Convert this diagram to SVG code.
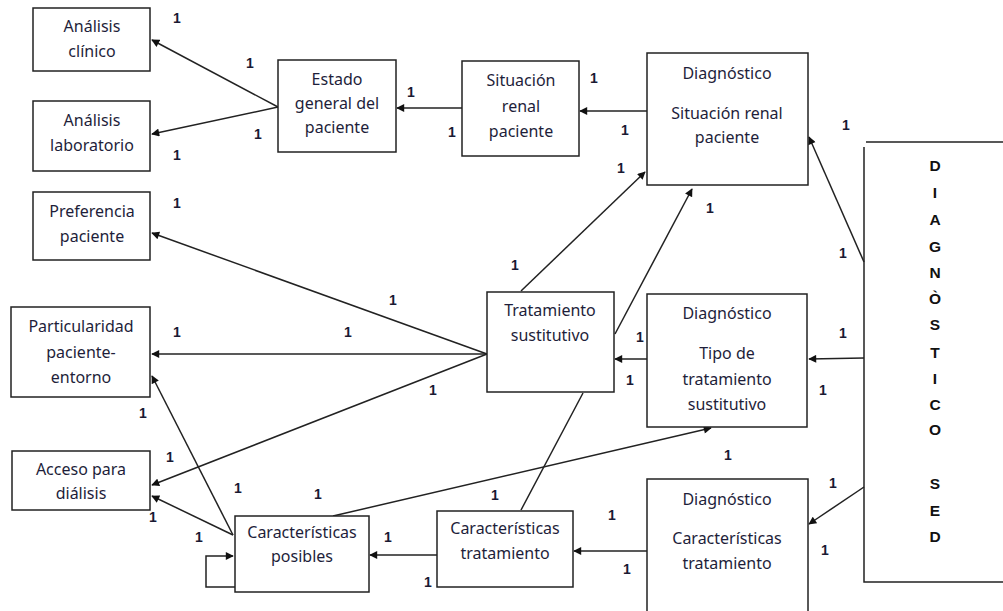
<svg xmlns="http://www.w3.org/2000/svg" width="1003" height="611" viewBox="0 0 1003 611">
<style>
.box{fill:#fff;stroke:#222;stroke-width:1.5}
.t{font-family:"Noto Sans","Open Sans",sans-serif;font-size:16px;fill:#1e1e3a;text-anchor:middle}
.n{font-family:"Liberation Sans",Arial,sans-serif;font-size:14px;font-weight:bold;fill:#1a1a33;text-anchor:middle}
.big{font-family:"Liberation Sans",Arial,sans-serif;font-size:15.5px;font-weight:bold;fill:#111;text-anchor:middle}
.c{fill:none;stroke:#222;stroke-width:1.5}
</style>
<defs>
<marker id="ah" viewBox="0 0 10 10" refX="9" refY="5" markerWidth="9" markerHeight="8" markerUnits="userSpaceOnUse" orient="auto">
<path d="M0,0 L10,5 L0,10 z" fill="#111"/>
</marker>
</defs>
<rect width="1003" height="611" fill="#fff"/>
<g id="connectors">
<line class="c" x1="278" y1="107" x2="152" y2="40" marker-end="url(#ah)"/>
<line class="c" x1="278" y1="107" x2="152" y2="134" marker-end="url(#ah)"/>
<line class="c" x1="462" y1="108" x2="397" y2="108" marker-end="url(#ah)"/>
<line class="c" x1="647" y1="111" x2="580" y2="111" marker-end="url(#ah)"/>
<line class="c" x1="521" y1="291" x2="645" y2="172" marker-end="url(#ah)"/>
<line class="c" x1="615" y1="334" x2="692" y2="189" marker-end="url(#ah)"/>
<line class="c" x1="647" y1="359" x2="615" y2="359" marker-end="url(#ah)"/>
<line class="c" x1="487" y1="354" x2="152" y2="233" marker-end="url(#ah)"/>
<line class="c" x1="487" y1="354" x2="152" y2="354" marker-end="url(#ah)"/>
<line class="c" x1="487" y1="354" x2="152" y2="485" marker-end="url(#ah)"/>
<line class="c" x1="233" y1="535" x2="152" y2="496" marker-end="url(#ah)"/>
<line class="c" x1="233" y1="535" x2="152" y2="376" marker-end="url(#ah)"/>
<path class="c" d="M235,587 H206 V556 H233" marker-end="url(#ah)"/>
<line class="c" x1="333" y1="516" x2="711" y2="428" marker-end="url(#ah)"/>
<line class="c" x1="521" y1="510" x2="583" y2="393"/>
<line class="c" x1="437" y1="555" x2="370" y2="555" marker-end="url(#ah)"/>
<line class="c" x1="647" y1="551" x2="574" y2="551" marker-end="url(#ah)"/>
<line class="c" x1="864" y1="262" x2="809" y2="137" marker-end="url(#ah)"/>
<line class="c" x1="864" y1="358" x2="809" y2="359" marker-end="url(#ah)"/>
<line class="c" x1="864" y1="487" x2="809" y2="524" marker-end="url(#ah)"/>
</g>
<g id="analisis-clinico">
<rect class="box" x="33" y="8" width="117" height="63"/>
<text class="t" x="92" y="32">Análisis</text>
<text class="t" x="92" y="57">clínico</text>
</g>
<g id="analisis-laboratorio">
<rect class="box" x="33" y="101" width="117" height="70"/>
<text class="t" x="92" y="126">Análisis</text>
<text class="t" x="92" y="151">laboratorio</text>
</g>
<g id="estado-general">
<rect class="box" x="278" y="60" width="118" height="92"/>
<text class="t" x="337" y="85">Estado</text>
<text class="t" x="337" y="109">general del</text>
<text class="t" x="337" y="133">paciente</text>
</g>
<g id="situacion-renal">
<rect class="box" x="462" y="61" width="117" height="95"/>
<text class="t" x="521" y="86">Situación</text>
<text class="t" x="521" y="112">renal</text>
<text class="t" x="521" y="137">paciente</text>
</g>
<g id="diag-situacion-renal">
<rect class="box" x="647" y="53" width="161" height="132"/>
<text class="t" x="727" y="79">Diagnóstico</text>
<text class="t" x="727" y="119">Situación renal</text>
<text class="t" x="727" y="143">paciente</text>
</g>
<g id="preferencia">
<rect class="box" x="33" y="192" width="117" height="68"/>
<text class="t" x="92" y="217">Preferencia</text>
<text class="t" x="92" y="242">paciente</text>
</g>
<g id="particularidad">
<rect class="box" x="11" y="307" width="139" height="90"/>
<text class="t" x="81" y="332">Particularidad</text>
<text class="t" x="81" y="358">paciente-</text>
<text class="t" x="81" y="383">entorno</text>
</g>
<g id="acceso">
<rect class="box" x="12" y="451" width="138" height="59"/>
<text class="t" x="81" y="475">Acceso para</text>
<text class="t" x="81" y="499">diálisis</text>
</g>
<g id="tratamiento-sustitutivo">
<rect class="box" x="487" y="292" width="127" height="100"/>
<text class="t" x="550" y="316">Tratamiento</text>
<text class="t" x="550" y="341">sustitutivo</text>
</g>
<g id="diag-tipo">
<rect class="box" x="647" y="294" width="160" height="133"/>
<text class="t" x="727" y="319">Diagnóstico</text>
<text class="t" x="727" y="359">Tipo de</text>
<text class="t" x="727" y="385">tratamiento</text>
<text class="t" x="727" y="410">sustitutivo</text>
</g>
<g id="caracteristicas-posibles">
<rect class="box" x="235" y="516" width="134" height="76"/>
<text class="t" x="302" y="538">Características</text>
<text class="t" x="302" y="562">posibles</text>
</g>
<g id="caracteristicas-tratamiento">
<rect class="box" x="437" y="511" width="136" height="76"/>
<text class="t" x="505" y="534">Características</text>
<text class="t" x="505" y="559">tratamiento</text>
</g>
<g id="diag-caracteristicas">
<rect class="box" x="647" y="479" width="161" height="145"/>
<text class="t" x="727" y="505">Diagnóstico</text>
<text class="t" x="727" y="544">Características</text>
<text class="t" x="727" y="569">tratamiento</text>
</g>
<g id="diagnostico-sed">
<path class="c" d="M866,142 H1003 M864,147 V582 H1003"/>
<text class="big" x="935" y="171">D</text>
<text class="big" x="935" y="198">I</text>
<text class="big" x="935" y="225">A</text>
<text class="big" x="935" y="252">G</text>
<text class="big" x="935" y="278">N</text>
<text class="big" x="935" y="304">Ò</text>
<text class="big" x="935" y="330">S</text>
<text class="big" x="935" y="358">T</text>
<text class="big" x="935" y="384">I</text>
<text class="big" x="935" y="410">C</text>
<text class="big" x="935" y="435">O</text>
<text class="big" x="935" y="489">S</text>
<text class="big" x="935" y="516">E</text>
<text class="big" x="935" y="542">D</text>
</g>
<g id="labels">
<text class="n" x="177" y="23">1</text>
<text class="n" x="250" y="68">1</text>
<text class="n" x="258" y="139">1</text>
<text class="n" x="177" y="160">1</text>
<text class="n" x="411" y="97">1</text>
<text class="n" x="452" y="137">1</text>
<text class="n" x="594" y="83">1</text>
<text class="n" x="625" y="135">1</text>
<text class="n" x="621" y="173">1</text>
<text class="n" x="710" y="213">1</text>
<text class="n" x="846" y="130">1</text>
<text class="n" x="843" y="258">1</text>
<text class="n" x="177" y="208">1</text>
<text class="n" x="393" y="305">1</text>
<text class="n" x="515" y="270">1</text>
<text class="n" x="177" y="337">1</text>
<text class="n" x="348" y="337">1</text>
<text class="n" x="433" y="395">1</text>
<text class="n" x="640" y="342">1</text>
<text class="n" x="630" y="385">1</text>
<text class="n" x="843" y="338">1</text>
<text class="n" x="823" y="395">1</text>
<text class="n" x="143" y="418">1</text>
<text class="n" x="170" y="462">1</text>
<text class="n" x="153" y="522">1</text>
<text class="n" x="238" y="493">1</text>
<text class="n" x="318" y="499">1</text>
<text class="n" x="199" y="542">1</text>
<text class="n" x="388" y="542">1</text>
<text class="n" x="428" y="587">1</text>
<text class="n" x="495" y="500">1</text>
<text class="n" x="612" y="520">1</text>
<text class="n" x="627" y="574">1</text>
<text class="n" x="728" y="460">1</text>
<text class="n" x="833" y="488">1</text>
<text class="n" x="825" y="555">1</text>
</g>
</svg>
